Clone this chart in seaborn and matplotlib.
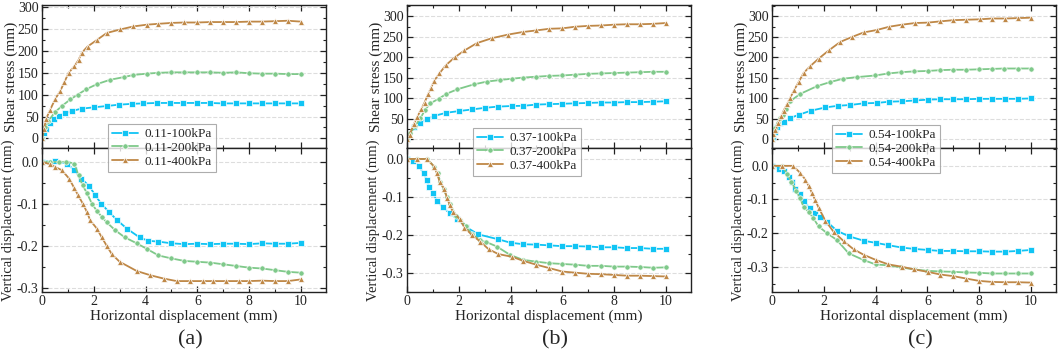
import matplotlib
matplotlib.use("Agg")
import matplotlib.pyplot as plt
import seaborn as sns
from matplotlib.ticker import MultipleLocator

sns.set_theme(style="ticks")
plt.rcParams['font.family'] = ['Liberation Serif', 'DejaVu Serif']
plt.rcParams['axes.unicode_minus'] = False

#####################################
##### DATA ###
#####################################
# panel (a), initial void ratio 0.11
a_x100 = [0, 0.06, 0.15, 0.3, 0.45, 0.64, 0.9, 1.16, 1.54, 2.0, 2.5, 2.96, 3.47, 3.92, 4.43, 4.95, 5.46, 5.98, 6.47, 6.98, 7.49, 8.0, 8.5, 9.0, 9.5, 10.0]
a_t100 = [0, 12, 22, 35, 45, 52, 57, 63, 68, 71, 74, 77, 79, 80, 81, 81, 81, 81, 81, 80, 80, 80, 80, 80, 80, 80]
a_x200 = [0, 0.12, 0.25, 0.5, 0.77, 1.09, 1.38, 1.7, 2.12, 2.63, 3.15, 3.53, 4.05, 4.5, 5.0, 5.5, 6.0, 6.5, 7.0, 7.5, 8.0, 8.5, 9.0, 9.5, 10.0]
a_t200 = [0, 25, 40, 60, 74, 89, 100, 112, 124, 134, 140, 145, 148, 150, 151, 151, 151, 151, 150, 151, 149, 148, 148, 147, 147]
a_x400 = [0, 0.08, 0.16, 0.32, 0.51, 0.71, 0.86, 1.03, 1.25, 1.41, 1.54, 1.76, 2.12, 2.5, 3.02, 3.53, 4.05, 4.5, 5.0, 5.5, 6.0, 6.5, 7.0, 7.5, 8.0, 8.5, 9.0, 9.5, 10.0]
a_t400 = [0, 22, 45, 66, 90, 109, 128, 150, 165, 179, 196, 210, 225, 241, 249, 256, 260, 262, 264, 265, 265, 266, 266, 266, 267, 267, 268, 269, 267]

a_vx100 = [0, 0.51, 0.96, 1.25, 1.52, 1.83, 2.06, 2.29, 2.6, 2.9, 3.3, 3.77, 4.1, 4.5, 5.0, 5.5, 6.0, 6.5, 7.0, 7.5, 8.0, 8.5, 9.0, 9.5, 10.0]
a_v100 = [0, 0.002, -0.004, -0.02, -0.04, -0.058, -0.08, -0.1, -0.12, -0.139, -0.16, -0.18, -0.188, -0.19, -0.194, -0.196, -0.195, -0.196, -0.195, -0.195, -0.196, -0.194, -0.195, -0.195, -0.193]
a_vx200 = [0, 0.3, 0.64, 0.94, 1.25, 1.41, 1.57, 1.74, 1.93, 2.12, 2.31, 2.5, 2.83, 3.2, 3.66, 4.07, 4.5, 5.0, 5.5, 6.0, 6.5, 7.0, 7.5, 8.0, 8.5, 9.0, 9.5, 10.0]
a_v200 = [0, 0.0, 0.0, 0.0, -0.004, -0.032, -0.056, -0.075, -0.1, -0.117, -0.131, -0.144, -0.163, -0.18, -0.194, -0.208, -0.223, -0.23, -0.236, -0.238, -0.24, -0.244, -0.248, -0.252, -0.254, -0.258, -0.262, -0.264]
a_vx400 = [0, 0.32, 0.5, 0.77, 1.05, 1.25, 1.4, 1.58, 1.74, 1.86, 2.12, 2.31, 2.5, 2.7, 3.0, 3.66, 4.18, 4.7, 5.2, 5.7, 6.2, 6.6, 7.1, 7.6, 8.0, 8.5, 9.0, 9.5, 10.0]
a_v400 = [0, -0.006, -0.012, -0.02, -0.04, -0.063, -0.08, -0.1, -0.12, -0.139, -0.159, -0.18, -0.2, -0.22, -0.238, -0.26, -0.27, -0.278, -0.284, -0.284, -0.284, -0.284, -0.284, -0.284, -0.284, -0.283, -0.284, -0.284, -0.28]

# panel (b), initial void ratio 0.37
b_x100 = [0, 0.26, 0.51, 0.77, 1.03, 1.52, 1.99, 2.5, 3.0, 3.5, 4.05, 4.5, 5.0, 5.5, 6.0, 6.5, 7.0, 7.5, 8.0, 8.5, 9.0, 9.5, 10.0]
b_t100 = [0, 31, 41, 49, 57, 65, 69, 73, 77, 80, 81.5, 82, 85, 86, 87, 88, 89, 90, 90, 91, 91, 92, 93]
b_x200 = [0, 0.13, 0.32, 0.51, 0.7, 0.9, 1.22, 1.52, 1.93, 2.57, 3.08, 3.6, 4.05, 4.5, 5.0, 5.5, 6.0, 6.5, 7.0, 7.5, 8.0, 8.5, 9.0, 9.5, 10.0]
b_t200 = [0, 15, 33, 51, 72, 88, 99, 111, 122, 134, 141, 145, 148, 151, 153, 155, 156, 158, 160, 161, 162, 163, 164, 165, 165]
b_x400 = [0, 0.1, 0.26, 0.39, 0.54, 0.68, 0.81, 0.93, 1.05, 1.25, 1.5, 1.84, 2.22, 2.7, 3.28, 3.92, 4.47, 5.0, 5.5, 6.0, 6.5, 7.0, 7.5, 8.0, 8.5, 9.0, 9.5, 10.0]
b_t400 = [0, 11, 37, 54, 73, 90, 110, 126, 143, 161, 181, 200, 217, 235, 247, 256, 262, 266, 270, 271, 275, 277, 278, 280, 281, 281, 282, 284]

b_vx100 = [0, 0.23, 0.46, 0.64, 0.77, 0.86, 1.0, 1.16, 1.39, 1.65, 1.93, 2.29, 2.76, 3.53, 4.0, 4.5, 5.0, 5.5, 6.0, 6.5, 7.0, 7.5, 8.0, 8.5, 9.0, 9.5, 10.0]
b_v100 = [0, -0.004, -0.018, -0.038, -0.055, -0.075, -0.09, -0.11, -0.128, -0.143, -0.158, -0.18, -0.199, -0.212, -0.221, -0.225, -0.226, -0.228, -0.23, -0.23, -0.231, -0.233, -0.233, -0.235, -0.235, -0.237, -0.237]
b_vx200 = [0, 0.39, 0.77, 1.05, 1.18, 1.29, 1.41, 1.54, 1.67, 1.9, 2.06, 2.29, 2.5, 2.83, 3.06, 3.47, 3.98, 4.47, 5.0, 5.5, 6.0, 6.5, 7.0, 7.5, 8.0, 8.5, 9.0, 9.5, 10.0]
b_v200 = [0, 0.0, 0.0, -0.02, -0.038, -0.06, -0.079, -0.1, -0.12, -0.15, -0.16, -0.178, -0.198, -0.214, -0.219, -0.231, -0.253, -0.266, -0.271, -0.275, -0.277, -0.279, -0.282, -0.282, -0.284, -0.284, -0.285, -0.287, -0.286]
b_vx400 = [0, 0.39, 0.77, 1.05, 1.16, 1.26, 1.44, 1.54, 1.65, 1.77, 2.03, 2.22, 2.5, 2.83, 3.15, 3.53, 4.05, 4.5, 5.0, 5.5, 6.0, 6.5, 7.0, 7.5, 8.0, 8.5, 9.0, 9.5, 10.0]
b_v400 = [0, 0.0, 0.0, -0.02, -0.038, -0.06, -0.079, -0.102, -0.121, -0.139, -0.158, -0.181, -0.2, -0.218, -0.238, -0.251, -0.258, -0.269, -0.279, -0.288, -0.297, -0.3, -0.303, -0.304, -0.306, -0.308, -0.308, -0.309, -0.31]

# panel (c), initial void ratio 0.54
c_x100 = [0, 0.03, 0.1, 0.19, 0.3, 0.48, 0.7, 1.03, 1.5, 2.06, 2.54, 3.02, 3.54, 4.05, 4.53, 5.02, 5.53, 6.01, 6.5, 7.01, 7.5, 8.0, 8.5, 9.0, 9.5, 10.0]
c_t100 = [0, 7, 19, 31, 39, 43, 52, 60, 70, 78, 82, 84, 88, 89, 92, 93, 95, 97, 98, 98, 98, 99, 99, 99, 99, 100]
c_x200 = [0, 0.03, 0.13, 0.22, 0.32, 0.42, 0.53, 0.7, 1.09, 1.74, 2.25, 2.74, 3.28, 3.99, 4.5, 5.0, 5.5, 6.01, 6.5, 6.99, 7.5, 7.98, 8.49, 8.98, 9.5, 10.0]
c_t200 = [0, 11, 27, 41, 52, 60, 74, 93, 111, 130, 140, 148, 152, 156, 161, 164, 166, 167, 169, 170, 170, 171, 172, 173, 173, 173]
c_x400 = [0, 0.03, 0.13, 0.22, 0.35, 0.45, 0.58, 0.7, 0.86, 1.03, 1.22, 1.48, 1.8, 2.19, 2.64, 3.09, 3.54, 4.05, 4.53, 5.02, 5.53, 6.01, 6.5, 7.01, 7.5, 8.02, 8.49, 9.01, 9.5, 10.0]
c_t400 = [0, 12, 23, 39, 56, 70, 86, 101, 121, 140, 162, 179, 197, 217, 238, 250, 261, 267, 275, 280, 284, 285, 288, 291, 292, 293, 295, 295, 296, 297]

c_vx100 = [0, 0.26, 0.45, 0.64, 0.77, 0.9, 1.07, 1.22, 1.45, 1.67, 1.87, 2.12, 2.51, 2.96, 3.56, 4.02, 4.5, 5.02, 5.5, 6.01, 6.5, 7.01, 7.5, 8.0, 8.49, 9.01, 9.5, 10.0]
c_v100 = [0, -0.008, -0.015, -0.033, -0.048, -0.069, -0.085, -0.105, -0.124, -0.139, -0.153, -0.166, -0.193, -0.209, -0.223, -0.229, -0.236, -0.243, -0.247, -0.25, -0.253, -0.253, -0.254, -0.254, -0.255, -0.255, -0.253, -0.25]
c_vx200 = [0, 0.39, 0.58, 0.75, 0.94, 1.09, 1.22, 1.42, 1.6, 1.8, 2.12, 2.5, 2.96, 3.54, 4.0, 4.5, 5.0, 5.5, 6.0, 6.5, 7.0, 7.5, 8.0, 8.5, 9.0, 9.5, 10.0]
c_v200 = [0, 0.0, -0.023, -0.048, -0.074, -0.097, -0.122, -0.137, -0.156, -0.18, -0.2, -0.22, -0.26, -0.28, -0.293, -0.296, -0.302, -0.308, -0.312, -0.314, -0.315, -0.317, -0.318, -0.32, -0.32, -0.32, -0.32]
c_vx400 = [0, 0.39, 0.81, 1.09, 1.29, 1.42, 1.54, 1.67, 1.8, 2.06, 2.38, 2.77, 3.15, 3.56, 4.02, 4.5, 5.02, 5.5, 6.01, 6.5, 7.01, 7.5, 8.0, 8.49, 9.01, 9.5, 10.0]
c_v400 = [0, 0.0, 0.0, -0.021, -0.041, -0.06, -0.08, -0.102, -0.124, -0.163, -0.196, -0.224, -0.248, -0.265, -0.28, -0.293, -0.3, -0.308, -0.315, -0.323, -0.328, -0.335, -0.342, -0.345, -0.346, -0.346, -0.347]

panels = [
    ("(a)", "0.11", [(a_x100, a_t100), (a_x200, a_t200), (a_x400, a_t400)],
     [(a_vx100, a_v100), (a_vx200, a_v200), (a_vx400, a_v400)]),
    ("(b)", "0.37", [(b_x100, b_t100), (b_x200, b_t200), (b_x400, b_t400)],
     [(b_vx100, b_v100), (b_vx200, b_v200), (b_vx400, b_v400)]),
    ("(c)", "0.54", [(c_x100, c_t100), (c_x200, c_t200), (c_x400, c_t400)],
     [(c_vx100, c_v100), (c_vx200, c_v200), (c_vx400, c_v400)]),
]
loads = ["100kPa", "200kPa", "400kPa"]
colors = ["#10C4F4", "#7FC98A", "#BF8847"]
markers = ["s", "o", "^"]
msizes = [4.2, 3.8, 4.2]

# layout in pixels (figure 1059x363)
W, H = 1059, 363
lefts = [42, 407, 772]
width = 284
top_lims = [(-22, 305), (-21, 328), (-21, 328)]
bot_lims = [(-0.31, 0.033), (-0.351, 0.029), (-0.375, 0.053)]
leg_pos = [(108, 124), (473, 128), (832, 125)]

fig = plt.figure(figsize=(W / 100, H / 100), dpi=100)


def style_ax(ax):
    ax.tick_params(which='both', direction='in', top=True, right=True, labelsize=10, colors='#222222', pad=2.5)
    ax.tick_params(which='major', length=4, width=0.9)
    ax.tick_params(which='minor', length=2.5, width=0.8)
    for s in ax.spines.values():
        s.set_linewidth(1.0)
        s.set_color('#222222')
    ax.grid(True, axis='y', linestyle='--', color='#dddddd', linewidth=0.8)
    ax.xaxis.set_major_locator(MultipleLocator(2))
    ax.xaxis.set_minor_locator(MultipleLocator(1))
    ax.set_xlim(0, 10.97)


for i, (tag, e, shear, vert) in enumerate(panels):
    l = lefts[i] / W
    ax1 = fig.add_axes([l, 1 - 148 / H, width / W, (148 - 5) / H])
    ax2 = fig.add_axes([l, 1 - 292 / H, width / W, (292 - 148) / H])

    for k, (xs, ys) in enumerate(shear):
        sns.lineplot(x=xs, y=ys, ax=ax1, color=colors[k], marker=markers[k], markersize=msizes[k],
                     markeredgewidth=0.5, linewidth=1.3, sort=False, errorbar=None, label=f"{e}-{loads[k]}")
    for k, (xs, ys) in enumerate(vert):
        sns.lineplot(x=xs, y=ys, ax=ax2, color=colors[k], marker=markers[k], markersize=msizes[k],
                     markeredgewidth=0.5, linewidth=1.3, sort=False, errorbar=None, legend=False)

    style_ax(ax1)
    style_ax(ax2)
    ax1.set_ylim(*top_lims[i])
    ax1.yaxis.set_major_locator(MultipleLocator(50))
    ax1.yaxis.set_minor_locator(MultipleLocator(25))
    ax1.tick_params(labelbottom=False)
    ax1.set_ylabel("Shear stress (mm)", fontsize=11)

    ax2.set_ylim(*bot_lims[i])
    ax2.yaxis.set_major_locator(MultipleLocator(0.1))
    ax2.yaxis.set_minor_locator(MultipleLocator(0.05))
    ax2.yaxis.set_major_formatter(matplotlib.ticker.FormatStrFormatter('%.1f'))
    ax2.set_ylabel("Vertical displacement (mm)", fontsize=10.5)
    ax2.set_xlabel("Horizontal displacement (mm)", fontsize=11, labelpad=1)
    # y label coords give the right edge of the rotated text
    ax1.yaxis.set_label_coords(-0.086, 0.5)
    ax2.yaxis.set_label_coords(-0.096, 0.5)

    handles, labels = ax1.get_legend_handles_labels()
    ax1.get_legend().remove()
    lx, ly = leg_pos[i]
    leg = fig.legend(handles, labels, loc='upper left', bbox_to_anchor=(lx / W, 1 - ly / H),
                     fontsize=9.5, frameon=True, fancybox=False, handlelength=2.0,
                     borderpad=0.3, labelspacing=0.12, handletextpad=0.5, borderaxespad=0)
    leg.get_frame().set_edgecolor('#999999')
    leg.get_frame().set_linewidth(0.8)

    fig.text((lefts[i] + width / 2 + 6) / W, 1 - 340 / H, tag, ha='center', va='center', fontsize=16)

plt.savefig("out.png", dpi=100)
